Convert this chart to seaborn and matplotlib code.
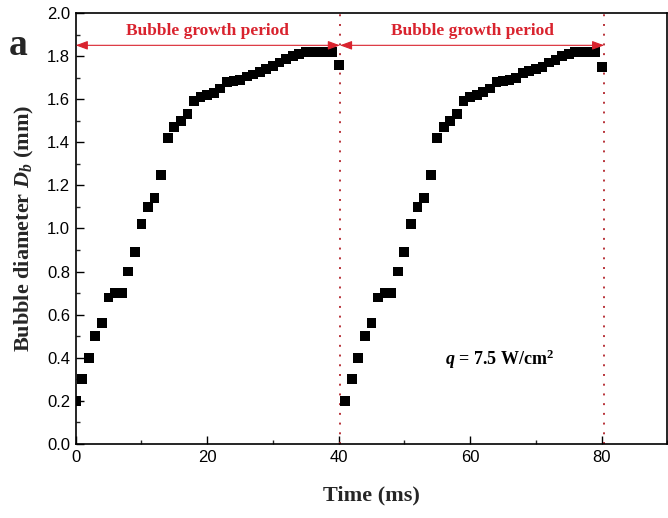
import matplotlib
matplotlib.use("Agg")
import matplotlib.pyplot as plt
from matplotlib.ticker import MultipleLocator
import pandas as pd
import seaborn as sns

# Bubble diameter over two consecutive growth cycles
time_ms = [0, 1, 2, 3, 4, 5, 6, 7, 8, 9, 10, 11, 12, 13, 14, 15, 16, 17, 18, 19,
           20, 21, 22, 23, 24, 25, 26, 27, 28, 29, 30, 31, 32, 33, 34, 35, 36, 37,
           38, 39, 40,
           41, 42, 43, 44, 45, 46, 47, 48, 49, 50, 51, 52, 53, 54, 55, 56, 57, 58,
           59, 60, 61, 62, 63, 64, 65, 66, 67, 68, 69, 70, 71, 72, 73, 74, 75, 76,
           77, 78, 79, 80]
diameter_mm = [0.20, 0.30, 0.40, 0.50, 0.56, 0.68, 0.70, 0.70, 0.80, 0.89, 1.02,
               1.10, 1.14, 1.25, 1.42, 1.47, 1.50, 1.53, 1.59, 1.61, 1.62, 1.63,
               1.65, 1.68, 1.685, 1.69, 1.705, 1.715, 1.725, 1.74, 1.755, 1.77,
               1.785, 1.80, 1.81, 1.82, 1.82, 1.82, 1.82, 1.82, 1.76,
               0.20, 0.30, 0.40, 0.50, 0.56, 0.68, 0.70, 0.70, 0.80, 0.89, 1.02,
               1.10, 1.14, 1.25, 1.42, 1.47, 1.50, 1.53, 1.59, 1.61, 1.62, 1.635,
               1.65, 1.68, 1.685, 1.69, 1.70, 1.72, 1.73, 1.74, 1.75, 1.77, 1.78,
               1.80, 1.81, 1.82, 1.82, 1.82, 1.82, 1.75]

# Detachment instants bounding each growth period
period_bounds = [0, 40.2, 80.4]
period_label = "Bubble growth period"
heat_flux_label = "$q$ = 7.5 W/cm$^{2}$"
panel_letter = "a"

df = pd.DataFrame({"Time (ms)": time_ms, "Diameter": diameter_mm})

sns.set_theme(style="ticks")
plt.rcParams["font.family"] = ["Liberation Sans", "DejaVu Sans"]
plt.rcParams["mathtext.fontset"] = "custom"
plt.rcParams["mathtext.rm"] = "Liberation Serif:bold"
plt.rcParams["mathtext.it"] = "Liberation Serif:italic:bold"
plt.rcParams["mathtext.bf"] = "Liberation Serif:bold"

fig = plt.figure(figsize=(6.68, 5.18), dpi=100)
ax = fig.add_axes([0.1133, 0.1429, 0.8857, 0.832])

sns.scatterplot(data=df, x="Time (ms)", y="Diameter", marker="s", s=50,
                color="black", edgecolor="none", linewidth=0, ax=ax, zorder=3)

ax.set_xlim(0, 90)
ax.set_ylim(0, 2.0)
ax.xaxis.set_major_locator(MultipleLocator(20))
ax.xaxis.set_minor_locator(MultipleLocator(10))
ax.yaxis.set_major_locator(MultipleLocator(0.2))
ax.yaxis.set_minor_locator(MultipleLocator(0.1))
ax.yaxis.set_major_formatter(matplotlib.ticker.FormatStrFormatter("%.1f"))
ax.tick_params(which="major", direction="in", length=6, width=1.0,
               labelsize=12, colors="black", pad=4)
ax.tick_params(which="minor", direction="in", length=3, width=1.0)
ax.tick_params(top=False, right=False, which="both")
for sp in ax.spines.values():
    sp.set_linewidth(1.2)
    sp.set_color("black")

serif = ["Liberation Serif", "DejaVu Serif"]
ax.set_xlabel("Time (ms)", fontsize=16, fontweight="bold", family=serif, labelpad=15)
ax.set_ylabel("Bubble diameter $D_b$ (mm)", fontsize=16, fontweight="bold",
              family=serif, labelpad=8)

red = "#d9232e"
# Vertical dotted markers at each detachment
for xb in period_bounds[1:]:
    ax.axvline(xb, color="#b8333a", lw=1.4, linestyle=(0, (1, 4.0)), zorder=2)

# Double-headed arrows spanning each growth period
arrow_y = 1.85
for x0, x1 in zip(period_bounds[:-1], period_bounds[1:]):
    ax.annotate("", xy=(x1, arrow_y), xytext=(x0, arrow_y),
                arrowprops=dict(arrowstyle="<|-|>,head_length=0.6,head_width=0.22",
                                color=red, lw=0.8, shrinkA=0, shrinkB=0),
                zorder=4)
    ax.text((x0 + x1) / 2, 1.915, period_label, ha="center", va="center",
            fontsize=12.5, fontweight="bold", family=serif, color=red)

ax.text(64.5, 0.395, heat_flux_label, ha="center", va="center", fontsize=13,
        fontweight="bold", family=serif, color="black")

fig.text(0.027, 0.913, panel_letter, ha="center", va="center", fontsize=27,
         fontweight="bold", family=serif)

fig.savefig("out.png", dpi=100)
